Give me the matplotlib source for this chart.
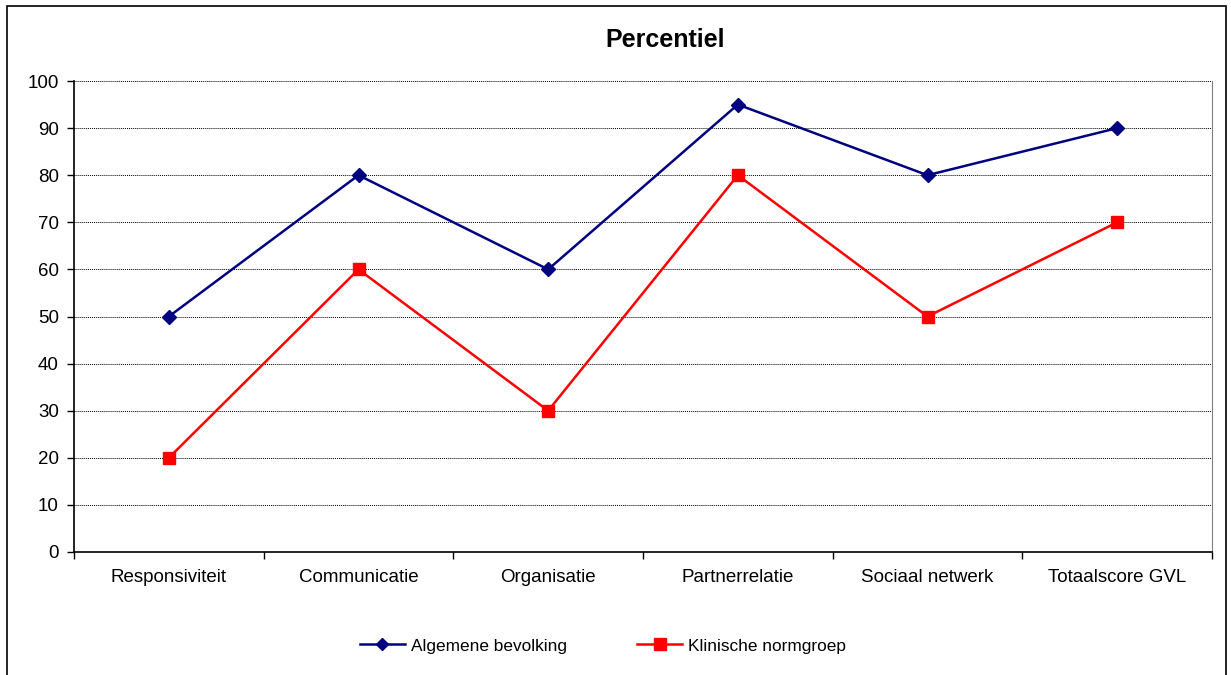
import matplotlib.pyplot as plt
from matplotlib.patches import Rectangle
from matplotlib.lines import Line2D

plt.rcParams['font.family'] = ['Liberation Sans', 'DejaVu Sans']

categories = ['Responsiviteit', 'Communicatie', 'Organisatie', 'Partnerrelatie',
              'Sociaal netwerk', 'Totaalscore GVL']
algemeen = [50, 80, 60, 95, 80, 90]
klinisch = [20, 60, 30, 80, 50, 70]
yticks = [0, 10, 20, 30, 40, 50, 60, 70, 80, 90, 100]

fig = plt.figure(figsize=(12.31, 6.75), dpi=100)
ax = fig.add_axes([74 / 1231, 1 - 552 / 675, (1212 - 74) / 1231, (552 - 81) / 675])

x = list(range(len(categories)))
ax.plot(x, algemeen, color='#000080', lw=1.8, marker='D', ms=7.5,
        label='Algemene bevolking', zorder=3)
ax.plot(x, klinisch, color='#ff0000', lw=1.8, marker='s', ms=8.5,
        label='Klinische normgroep', zorder=3)

ax.set_xlim(-0.5, len(categories) - 0.5)
ax.set_ylim(0, 100)
ax.set_yticks(yticks)
ax.set_yticklabels([str(v) for v in yticks], fontsize=13.5)
ax.set_xticks(x)
ax.set_xticklabels(categories, fontsize=13.5)
ax.tick_params(axis='x', length=0, pad=12)
ax.tick_params(axis='y', length=5, width=1, direction='out', pad=6)
# category boundary ticks
ax.set_xticks([i - 0.5 for i in range(len(categories) + 1)], minor=True)
ax.tick_params(axis='x', which='minor', length=5, width=1, direction='out')

ax.yaxis.grid(True, color='black', linestyle=(0, (1, 1)), lw=0.7)
ax.set_axisbelow(True)
ax.spines['top'].set_visible(False)
ax.spines['right'].set_color('#808080')
ax.spines['left'].set_linewidth(1.2)
ax.spines['bottom'].set_linewidth(1.2)

fig.text(665 / 1231, 1 - 40 / 675, 'Percentiel', ha='center', va='center',
         fontsize=18, fontweight='bold')

handles = [Line2D([], [], color='#000080', lw=1.8, marker='D', ms=6.5),
           Line2D([], [], color='#ff0000', lw=1.8, marker='s', ms=9)]
fig.legend(handles, ['Algemene bevolking', 'Klinische normgroep'],
           loc='center', bbox_to_anchor=(603 / 1231, 1 - 646 / 675), ncol=2,
           frameon=False, fontsize=12.4, handlelength=2.6, handletextpad=0.35,
           columnspacing=4.1, borderpad=0, borderaxespad=0)

fig.patches.append(Rectangle((7 / 1231, -0.05), (1226 - 7) / 1231, 1.05 - 6 / 675,
                             transform=fig.transFigure, fill=False,
                             edgecolor='black', lw=1.2))

fig.savefig('out.png', dpi=100)
